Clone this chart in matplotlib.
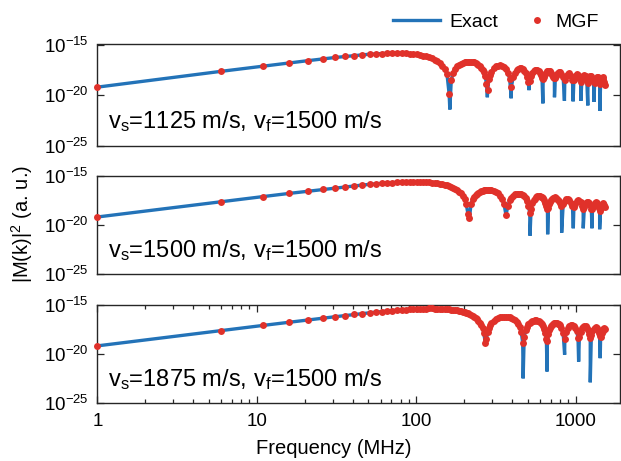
import numpy as np
import matplotlib
matplotlib.use('Agg')
import matplotlib.pyplot as plt
from matplotlib.lines import Line2D
from matplotlib.ticker import FixedLocator, FixedFormatter, NullLocator, NullFormatter

plt.rcParams['font.family'] = ['Liberation Sans', 'DejaVu Sans']
plt.rcParams['mathtext.fontset'] = 'custom'
plt.rcParams['mathtext.rm'] = 'Liberation Sans'
plt.rcParams['mathtext.it'] = 'Liberation Sans:italic'
plt.rcParams['mathtext.bf'] = 'Liberation Sans:bold'

# ---------------- data (frequency in MHz, values as log10 of |M(k)|^2) -------------
freq = [1, 6, 11, 16, 21, 26, 31, 36, 41, 46, 51, 56, 61, 66, 71, 76, 81, 86, 91, 96,
        101, 106, 111, 116, 121, 126, 131, 136, 141, 146, 151, 156, 161, 166, 171, 176,
        181, 186, 191, 196, 201, 206, 211, 216, 221, 226, 231, 236, 241, 246, 251, 256,
        261, 266, 271, 276, 281, 286, 291, 296,
        306, 316, 326, 336, 346, 356, 366, 376, 386, 396, 406, 416, 426, 436, 446, 456,
        466, 476, 486, 496, 506, 516, 526, 536, 546, 556, 566, 576, 586, 596, 606, 616,
        626, 636, 646, 656, 666, 676, 686, 696, 706, 716, 726, 736, 746, 756, 766, 776,
        786, 796,
        816, 836, 856, 876, 896, 916, 936, 956, 976, 996, 1016, 1036, 1056, 1076, 1096,
        1116, 1136, 1156, 1176, 1196, 1216, 1236, 1256, 1276, 1296, 1316, 1336, 1356,
        1376, 1396, 1416, 1436, 1456, 1476, 1496, 1516, 1536]

mgf_p1 = [-19.20, -17.64, -17.13, -16.81, -16.59, -16.42, -16.28, -16.18, -16.09, -16.02,
          -15.96, -15.92, -15.89, -15.87, -15.86, -15.86, -15.86, -15.88, -15.89, -15.94,
          -15.98, -16.03, -16.09, -16.16, -16.25, -16.36, -16.50, -16.63, -16.84, -17.07,
          -17.39, -17.90, -19.90, -18.50, -17.76, -17.39, -17.16, -17.00, -16.88, -16.80,
          -16.74, -16.70, -16.68, -16.68, -16.69, -16.72, -16.76, -16.82, -16.90, -16.99,
          -17.12, -17.27, -17.48, -17.75, -18.15, -18.85, -19.50, -18.40, -17.96, -17.67,
          -17.34, -17.16, -17.07, -17.06, -17.11, -17.23, -17.44, -17.78, -18.36, -19.15,
          -18.21, -17.76, -17.51, -17.37, -17.32, -17.33, -17.41, -17.57, -17.79, -18.18,
          -18.74, -18.56, -18.07, -17.78, -17.60, -17.52, -17.50, -17.50, -17.60, -17.77,
          -18.02, -18.33, -18.44, -18.21, -17.95, -17.77, -17.66, -17.62, -17.59, -17.66,
          -17.79, -17.97, -18.19, -18.34, -18.27, -18.08, -17.90, -17.78, -17.72, -17.72,
          -17.86, -18.23, -18.45, -18.09, -17.86, -17.85, -18.06, -18.47, -18.46, -18.10,
          -17.94, -17.99, -18.27, -18.66, -18.44, -18.12, -18.02, -18.15, -18.49, -18.75,
          -18.40, -18.15, -18.12, -18.31, -18.71, -18.75, -18.37, -18.19, -18.23, -18.49,
          -18.89, -18.70, -18.36, -18.25, -18.36, -18.68, -18.98]

mgf_p2 = [-19.20, -17.64, -17.12, -16.80, -16.58, -16.40, -16.26, -16.14, -16.04, -15.95,
          -15.88, -15.82, -15.78, -15.73, -15.70, -15.67, -15.64, -15.63, -15.62, -15.61,
          -15.62, -15.64, -15.65, -15.65, -15.66, -15.70, -15.74, -15.77, -15.80, -15.85,
          -15.91, -15.97, -16.06, -16.13, -16.23, -16.35, -16.48, -16.64, -16.81, -17.04,
          -17.35, -17.85, -18.85, -19.27, -17.83, -17.41, -17.15, -16.97, -16.83, -16.72,
          -16.64, -16.57, -16.52, -16.49, -16.46, -16.45, -16.44, -16.44, -16.46, -16.48,
          -16.55, -16.66, -16.81, -17.04, -17.36, -17.91, -19.02, -18.08, -17.52, -17.22,
          -17.03, -16.91, -16.84, -16.82, -16.84, -16.89, -16.98, -17.11, -17.31, -17.61,
          -18.08, -18.81, -18.36, -17.82, -17.50, -17.32, -17.19, -17.11, -17.08, -17.09,
          -17.13, -17.19, -17.31, -17.49, -17.74, -18.07, -18.37, -18.24, -17.91, -17.66,
          -17.48, -17.36, -17.29, -17.25, -17.21, -17.25, -17.32, -17.43, -17.58, -17.76,
          -18.11, -17.89, -17.56, -17.40, -17.37, -17.48, -17.73, -18.13, -18.20, -17.84,
          -17.60, -17.50, -17.54, -17.72, -18.06, -18.38, -18.14, -17.81, -17.65, -17.63,
          -17.73, -17.99, -18.38, -18.42, -18.05, -17.81, -17.72, -17.77, -17.95, -18.29,
          -18.59, -18.32, -18.00, -17.84, -17.82, -17.94, -18.20]

mgf_p3 = [-19.20, -17.64, -17.12, -16.80, -16.57, -16.39, -16.24, -16.12, -16.01, -15.92,
          -15.84, -15.77, -15.72, -15.66, -15.62, -15.58, -15.54, -15.51, -15.48, -15.46,
          -15.44, -15.43, -15.42, -15.41, -15.40, -15.40, -15.41, -15.41, -15.42, -15.43,
          -15.44, -15.46, -15.49, -15.51, -15.53, -15.57, -15.59, -15.63, -15.68, -15.73,
          -15.78, -15.84, -15.90, -15.98, -16.06, -16.15, -16.25, -16.36, -16.50, -16.66,
          -16.85, -17.08, -17.40, -17.93, -18.88, -18.53, -17.75, -17.36, -17.10, -16.91,
          -16.66, -16.49, -16.37, -16.29, -16.25, -16.23, -16.23, -16.26, -16.30, -16.37,
          -16.47, -16.59, -16.76, -16.98, -17.29, -17.78, -18.90, -18.27, -17.59, -17.24,
          -17.01, -16.85, -16.74, -16.67, -16.63, -16.61, -16.61, -16.64, -16.69, -16.77,
          -16.88, -17.02, -17.21, -17.48, -17.87, -18.55, -18.72, -18.00, -17.59, -17.34,
          -17.17, -17.04, -16.96, -16.90, -16.87, -16.87, -16.89, -16.93, -16.98, -17.08,
          -17.38, -17.92, -18.55, -17.81, -17.38, -17.16, -17.06, -17.06, -17.16, -17.36,
          -17.72, -18.37, -18.34, -17.75, -17.43, -17.26, -17.21, -17.23, -17.36, -17.60,
          -18.01, -18.40, -18.06, -17.68, -17.45, -17.35, -17.32, -17.39, -17.56, -17.85,
          -18.24, -18.31, -17.94, -17.66, -17.50, -17.43, -17.46]

# Exact solution: same as above except for the deep nulls (frequency, log10 depth)
null_f_p1 = [162.6, 279.6, 394.7, 509.2, 623.4, 737.4, 851.4, 965.3, 1079.2, 1193.0, 1306.8, 1420.6]
null_v_p1 = [-21.4, -20.2, -20.3, -19.5, -20.8, -20.2, -20.55, -20.6, -20.55, -21.0, -20.65, -21.55]
null_f_p2 = [517.9, 668.1, 818.0, 967.6, 1117.2, 1266.6, 1416.1]
null_v_p2 = [-21.1, -20.96, -20.8, -20.35, -20.35, -20.35, -20.45]
null_f_p3 = [468.9, 661.9, 853.8, 1045.3, 1236.5, 1427.6]
null_v_p3 = [-22.5, -21.8, -20.1, -20.8, -22.9, -20.45]

panel_labels = ['v$_\\mathrm{s}$=1125 m/s, v$_\\mathrm{f}$=1500 m/s',
                'v$_\\mathrm{s}$=1500 m/s, v$_\\mathrm{f}$=1500 m/s',
                'v$_\\mathrm{s}$=1875 m/s, v$_\\mathrm{f}$=1500 m/s']
series_names = ['Exact', 'MGF']
x_tick_values = [1, 10, 100, 1000]
x_tick_labels = ['1', '10', '100', '1000']
y_tick_values = [1e-25, 1e-20, 1e-15]
y_tick_labels = ['$10^{-25}$', '$10^{-20}$', '$10^{-15}$']

panels = [(mgf_p1, null_f_p1, null_v_p1),
          (mgf_p2, null_f_p2, null_v_p2),
          (mgf_p3, null_f_p3, null_v_p3)]

# ---------------- styling ----------------
BLUE = '#2373B8'
RED = '#E0312A'
SPINE = '#262626'
W, H = 621, 461
LW = 2.4
MS = 5.0

fig = plt.figure(figsize=(W / 100, H / 100), dpi=100)
rects_px = [(97.4, 44.5, 620, 146), (97.4, 175.7, 620, 274), (97.4, 304.5, 620, 403)]

f_arr = np.array(freq, dtype=float)
minor_x = [m * 10 ** d for d in range(0, 4) for m in range(2, 10) if m * 10 ** d < 1900]

for i, ((mgf, nf, nv), (l, t, r, b)) in enumerate(zip(panels, rects_px)):
    ax = fig.add_axes([l / W, 1 - b / H, (r - l) / W, (b - t) / H])
    ax.set_xscale('log')
    ax.set_yscale('log')

    mgf_v = np.array(mgf, dtype=float)
    ex_f = np.concatenate([f_arr, np.array(nf, dtype=float)])
    ex_v = np.concatenate([mgf_v, np.array(nv, dtype=float)])
    order = np.argsort(ex_f, kind='stable')
    ax.plot(ex_f[order], 10.0 ** ex_v[order], color=BLUE, lw=LW, zorder=2,
            solid_joinstyle='miter')
    ax.plot(f_arr, 10.0 ** mgf_v, ls='none', marker='o', ms=MS, color=RED,
            mec=RED, mew=0, zorder=3, clip_on=False)

    ax.set_xlim(1, 1900)
    ax.set_ylim(1e-25, 1e-15)
    ax.yaxis.set_major_locator(FixedLocator(y_tick_values))
    ax.yaxis.set_major_formatter(FixedFormatter(y_tick_labels))
    ax.yaxis.set_minor_locator(NullLocator())
    ax.yaxis.set_minor_formatter(NullFormatter())
    if i < 2:
        ax.xaxis.set_major_locator(NullLocator())
        ax.xaxis.set_minor_locator(NullLocator())
    else:
        ax.xaxis.set_major_locator(FixedLocator(x_tick_values))
        ax.xaxis.set_major_formatter(FixedFormatter(x_tick_labels))
        ax.xaxis.set_minor_locator(FixedLocator(minor_x))
        ax.xaxis.set_minor_formatter(NullFormatter())
    ax.tick_params(which='both', direction='in', top=True, right=True,
                   labelsize=13.5, colors=SPINE, labelcolor='black', width=0.9)
    ax.tick_params(which='major', length=5)
    ax.tick_params(which='minor', length=3)
    ax.tick_params(axis='y', pad=6)
    ax.tick_params(axis='x', pad=7)
    for sp in ax.spines.values():
        sp.set_color(SPINE)
        sp.set_linewidth(1.0)
    ax.text(0.02, 0.175, panel_labels[i], transform=ax.transAxes, fontsize=17,
            ha='left', va='baseline')

# legend (two parts so the marker entry sits close to its text)
fig.legend([Line2D([], [], color=BLUE, lw=LW)], [series_names[0]], loc='center left',
           bbox_to_anchor=(385.2 / W, 1 - 22 / H), frameon=False, fontsize=14,
           handlelength=2.42, handletextpad=0.5, borderpad=0.4, borderaxespad=0)
fig.legend([Line2D([], [], ls='none', marker='o', ms=MS, color=RED, mew=0)],
           [series_names[1]], loc='center left',
           bbox_to_anchor=(520.5 / W, 1 - 22 / H), frameon=False, fontsize=14,
           handlelength=0.9, handletextpad=0.5, borderpad=0.4, borderaxespad=0)

fig.text(22 / W, 1 - 224 / H, '|M(k)|$^2$ (a. u.)', rotation=90, ha='center',
         va='center', fontsize=14.5)
fig.text(334 / W, 1 - 454 / H, 'Frequency (MHz)', ha='center', va='baseline',
         fontsize=14.5)

fig.savefig('out.png', dpi=100)
